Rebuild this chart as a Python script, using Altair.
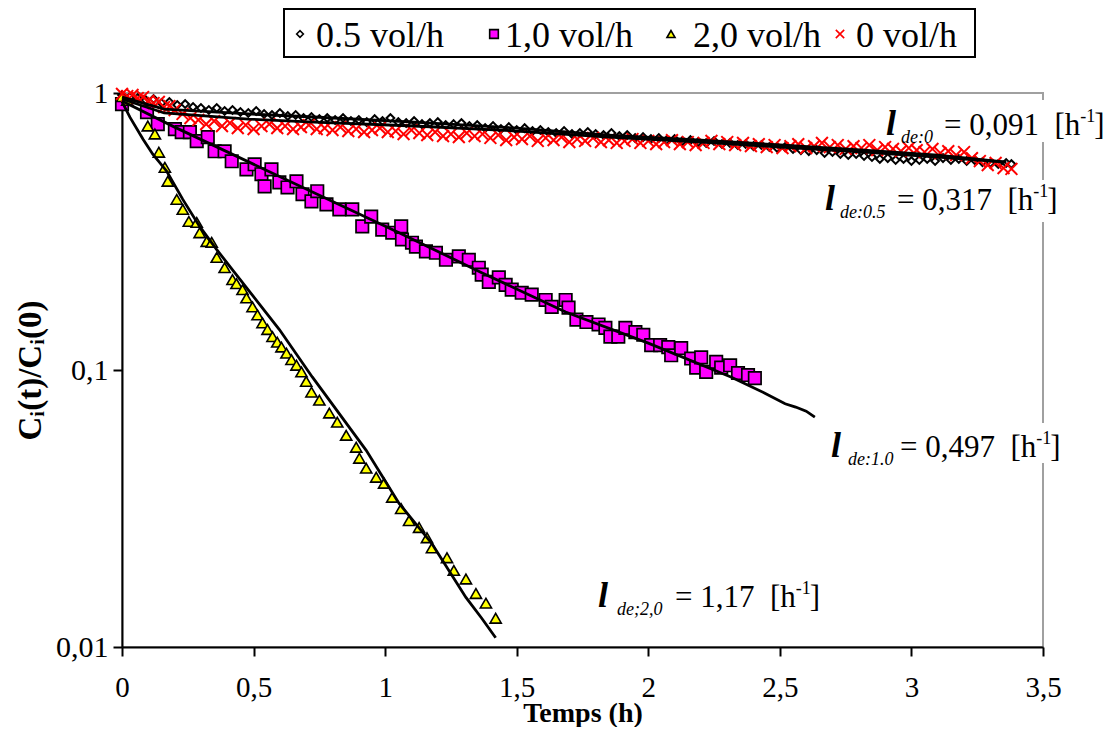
import altair as alt
import pandas as pd

SERIF = "Liberation Serif"

# ---------------- data ----------------
# 0.5 vol/h (open diamonds)
t05 = [0.00, 0.03, 0.06, 0.09, 0.12, 0.15, 0.18, 0.21, 0.24, 0.27,
       0.30, 0.33, 0.36, 0.39, 0.42, 0.45, 0.48, 0.51, 0.54, 0.57,
       0.60, 0.63, 0.66, 0.69, 0.72, 0.75, 0.78, 0.81, 0.84, 0.87,
       0.90, 0.93, 0.96, 0.99, 1.02, 1.05, 1.08, 1.11, 1.14, 1.17,
       1.20, 1.23, 1.26, 1.29, 1.32, 1.35, 1.38, 1.41, 1.44, 1.47,
       1.50, 1.53, 1.56, 1.59, 1.62, 1.65, 1.68, 1.71, 1.74, 1.77,
       1.80, 1.83, 1.86, 1.89, 1.92, 1.95, 1.98, 2.01, 2.04, 2.07,
       2.10, 2.13, 2.16, 2.19, 2.22, 2.25, 2.28, 2.31, 2.34, 2.37,
       2.40, 2.43, 2.46, 2.49, 2.52, 2.55, 2.58, 2.61, 2.64, 2.67,
       2.70, 2.73, 2.76, 2.79, 2.82, 2.85, 2.88, 2.91, 2.94, 2.97,
       3.00, 3.03, 3.06, 3.09, 3.12, 3.15, 3.18, 3.21, 3.24, 3.27,
       3.30, 3.33, 3.36, 3.38]
c05 = [0.984, 0.967, 0.959, 0.943, 0.951, 0.920, 0.928, 0.905, 0.912, 0.890,
       0.883, 0.868, 0.883, 0.861, 0.868, 0.854, 0.847, 0.861, 0.840, 0.833,
       0.847, 0.826, 0.833, 0.812, 0.819, 0.805, 0.812, 0.799, 0.812, 0.792,
       0.799, 0.785, 0.805, 0.792, 0.812, 0.785, 0.779, 0.792, 0.772, 0.779,
       0.785, 0.766, 0.772, 0.779, 0.760, 0.766, 0.747, 0.760, 0.741, 0.753,
       0.735, 0.747, 0.729, 0.735, 0.723, 0.717, 0.729, 0.711, 0.717, 0.723,
       0.711, 0.705, 0.717, 0.699, 0.705, 0.688, 0.693, 0.682, 0.688, 0.676,
       0.682, 0.671, 0.676, 0.665, 0.660, 0.671, 0.654, 0.660, 0.649, 0.654,
       0.643, 0.649, 0.638, 0.633, 0.638, 0.628, 0.622, 0.617, 0.622, 0.607,
       0.612, 0.602, 0.597, 0.602, 0.592, 0.587, 0.578, 0.582, 0.573, 0.578,
       0.568, 0.573, 0.578, 0.568, 0.582, 0.573, 0.578, 0.568, 0.573, 0.563,
       0.559, 0.554, 0.559, 0.554]

# 1,0 vol/h (magenta squares)
t10 = [0.000, 0.095, 0.136, 0.201, 0.227, 0.258, 0.284, 0.326, 0.352, 0.390,
       0.417, 0.473, 0.504, 0.530, 0.542, 0.568, 0.598, 0.629, 0.663, 0.686,
       0.720, 0.742, 0.777, 0.826, 0.875, 0.913, 0.947, 0.989, 1.027, 1.061,
       1.064, 1.102, 1.117, 1.155, 1.193, 1.231, 1.280, 1.318, 1.356, 1.367,
       1.394, 1.432, 1.458, 1.481, 1.519, 1.557, 1.610, 1.633, 1.686, 1.697,
       1.727, 1.765, 1.811, 1.837, 1.856, 1.886, 1.913, 1.951, 1.981, 2.011,
       2.045, 2.076, 2.087, 2.125, 2.163, 2.182, 2.201, 2.220, 2.258, 2.277,
       2.311, 2.341, 2.379, 2.405]
c10 = [0.912, 0.853, 0.772, 0.741, 0.722, 0.722, 0.670, 0.693, 0.616, 0.616,
       0.567, 0.530, 0.553, 0.509, 0.460, 0.530, 0.476, 0.456, 0.480, 0.431,
       0.406, 0.442, 0.396, 0.380, 0.380, 0.330, 0.358, 0.321, 0.313, 0.330,
       0.296, 0.288, 0.279, 0.268, 0.265, 0.250, 0.257, 0.250, 0.234, 0.221,
       0.208, 0.216, 0.203, 0.195, 0.190, 0.187, 0.179, 0.169, 0.179, 0.168,
       0.152, 0.149, 0.146, 0.142, 0.132, 0.132, 0.142, 0.137, 0.134, 0.123,
       0.123, 0.121, 0.113, 0.120, 0.110, 0.102, 0.111, 0.0984, 0.107, 0.102,
       0.104, 0.0975, 0.0959, 0.0935]

# 2,0 vol/h (yellow triangles)
t20 = [0.000, 0.020, 0.098, 0.125, 0.140, 0.163, 0.174, 0.208, 0.231, 0.254,
       0.284, 0.295, 0.322, 0.341, 0.360, 0.390, 0.420, 0.435, 0.458, 0.473,
       0.496, 0.515, 0.534, 0.553, 0.572, 0.590, 0.606, 0.625, 0.644, 0.663,
       0.682, 0.700, 0.720, 0.750, 0.788, 0.818, 0.852, 0.890, 0.902, 0.928,
       0.966, 0.996, 1.027, 1.061, 1.091, 1.129, 1.159, 1.178, 1.235, 1.261,
       1.307, 1.345, 1.383, 1.420]
c20 = [0.970, 0.940, 0.760, 0.711, 0.611, 0.539, 0.480, 0.413, 0.380, 0.344,
       0.341, 0.313, 0.291, 0.289, 0.255, 0.234, 0.212, 0.205, 0.195, 0.182,
       0.169, 0.158, 0.148, 0.140, 0.132, 0.126, 0.121, 0.115, 0.109, 0.104,
       0.0984, 0.0910, 0.0832, 0.0778, 0.0699, 0.0648, 0.0581, 0.0526, 0.0480, 0.0442,
       0.0410, 0.0390, 0.0347, 0.0316, 0.0286, 0.0270, 0.0248, 0.0228, 0.0210, 0.0189,
       0.0176, 0.0156, 0.0144, 0.0127]

# 0 vol/h (red crosses)
t00 = [0.00, 0.02, 0.04, 0.06, 0.08, 0.10, 0.12, 0.14, 0.16, 0.18,
       0.20, 0.23, 0.26, 0.29, 0.32, 0.35, 0.38, 0.41, 0.44, 0.47,
       0.50, 0.53, 0.56, 0.59, 0.62, 0.65, 0.68, 0.71, 0.74, 0.77,
       0.80, 0.83, 0.86, 0.89, 0.92, 0.95, 0.98, 1.01, 1.04, 1.07,
       1.10, 1.13, 1.16, 1.19, 1.22, 1.25, 1.28, 1.31, 1.34, 1.37,
       1.40, 1.43, 1.46, 1.49, 1.52, 1.55, 1.58, 1.61, 1.64, 1.67,
       1.70, 1.73, 1.76, 1.79, 1.82, 1.85, 1.88, 1.91, 1.94, 1.97,
       2.00, 2.03, 2.06, 2.09, 2.12, 2.15, 2.18, 2.21, 2.24, 2.27,
       2.30, 2.33, 2.36, 2.39, 2.42, 2.45, 2.48, 2.51, 2.54, 2.57,
       2.60, 2.63, 2.66, 2.69, 2.72, 2.75, 2.78, 2.81, 2.84, 2.87,
       2.90, 2.93, 2.96, 2.99, 3.02, 3.05, 3.08, 3.11, 3.14, 3.17,
       3.20, 3.23, 3.26, 3.29, 3.32, 3.35, 3.38]
c00 = [0.992, 0.975, 0.984, 0.959, 0.967, 0.936, 0.920, 0.928, 0.890, 0.897,
       0.868, 0.840, 0.812, 0.799, 0.772, 0.792, 0.760, 0.779, 0.747, 0.766,
       0.741, 0.760, 0.772, 0.747, 0.760, 0.741, 0.753, 0.766, 0.741, 0.747,
       0.735, 0.753, 0.729, 0.741, 0.723, 0.735, 0.747, 0.723, 0.729, 0.711,
       0.735, 0.717, 0.705, 0.723, 0.699, 0.711, 0.693, 0.717, 0.699, 0.711,
       0.688, 0.705, 0.676, 0.693, 0.682, 0.699, 0.671, 0.688, 0.676, 0.693,
       0.665, 0.682, 0.671, 0.688, 0.665, 0.676, 0.660, 0.671, 0.682, 0.660,
       0.671, 0.654, 0.665, 0.676, 0.654, 0.665, 0.649, 0.660, 0.671, 0.654,
       0.665, 0.649, 0.660, 0.643, 0.654, 0.638, 0.649, 0.633, 0.643, 0.654,
       0.633, 0.643, 0.660, 0.638, 0.649, 0.628, 0.643, 0.633, 0.649, 0.622,
       0.638, 0.628, 0.617, 0.633, 0.622, 0.612, 0.628, 0.607, 0.617, 0.597,
       0.612, 0.582, 0.568, 0.549, 0.559, 0.536, 0.532]

# fitted curves (black lines)
fitA_t = [0.00, 0.16, 0.48, 0.73, 1.11, 1.50, 1.85, 2.20, 2.50, 2.82, 3.10, 3.36]
fitA_c = [0.967, 0.875, 0.840, 0.819, 0.785, 0.747, 0.705, 0.676, 0.649, 0.622, 0.597, 0.563]
fitB_t = [0.00, 0.16, 0.48, 0.73, 1.11, 1.50, 1.85, 2.20, 2.50, 2.82, 3.10, 3.36]
fitB_c = [0.951, 0.847, 0.805, 0.785, 0.760, 0.729, 0.693, 0.665, 0.638, 0.612, 0.587, 0.563]
fitM_t = [0.000, 0.200, 1.053, 1.367, 1.686, 2.000, 2.314, 2.443, 2.520, 2.560, 2.600, 2.633]
fitM_c = [0.935, 0.753, 0.313, 0.2246, 0.162, 0.125, 0.0944, 0.0825, 0.0755, 0.0735, 0.0710, 0.0676]
fitY_t = [0.000, 0.030, 0.080, 0.117, 0.170, 0.231, 0.295, 0.360, 0.420, 0.598,
          0.723, 0.928, 1.053, 1.178, 1.307, 1.367, 1.420]
fitY_c = [0.930, 0.818, 0.681, 0.601, 0.522, 0.413, 0.330, 0.272, 0.230, 0.140,
          0.0944, 0.0513, 0.0330, 0.0236, 0.0151, 0.0127, 0.0108]

x_ticks = [0, 0.5, 1, 1.5, 2, 2.5, 3, 3.5]
y_ticks = [0.01, 0.1, 1]

legend_labels = ["0.5 vol/h", "1,0 vol/h", "2,0 vol/h", "0 vol/h"]

annotations = [  # (lambda subscript, value)
    ("de:0", "0,091"),
    ("de:0.5", "0,317"),
    ("de:1.0", "0,497"),
    ("de;2,0", "1,17"),
]

# ---------------- chart ----------------
xscale = alt.Scale(domain=[0, 3.5], nice=False, zero=False)
yscale = alt.Scale(type="log", domain=[0.01, 1], nice=False)

xaxis = alt.Axis(values=x_ticks, labelExpr="replace(format(datum.value, '~g'), '.', ',')",
                 title="Temps (h)", grid=False, tickSize=9, tickWidth=2, tickColor="black",
                 domainColor="black", domainWidth=2, labelFont=SERIF, labelFontSize=29,
                 labelColor="black", labelPadding=17, labelFlush=False, labelOverlap=False,
                 titleFont=SERIF, titleFontSize=28, titleFontWeight="bold", titleColor="black",
                 titleBaseline="alphabetic", titleY=74)
yaxis = alt.Axis(values=y_ticks, labelExpr="replace(format(datum.value, '~g'), '.', ',')",
                 title="C\u1d62(t)/C\u1d62(0)", grid=False, tickSize=9, tickWidth=2, tickColor="black",
                 domainColor="black", domainWidth=2, labelFont=SERIF, labelFontSize=30,
                 labelColor="black", labelPadding=5, labelFlush=False, labelOverlap=False,
                 titleFont=SERIF, titleFontSize=33, titleFontWeight="bold", titleColor="black",
                 titlePadding=8)


def df(t, c):
    return pd.DataFrame({"t": t, "c": c})


def enc(ch, with_axis=False):
    return ch.encode(x=alt.X("t:Q", scale=xscale, axis=xaxis if with_axis else None),
                     y=alt.Y("c:Q", scale=yscale, axis=yaxis if with_axis else None))


XPATH = "M-1,-1L1,1M-1,1L1,-1"

p05 = enc(alt.Chart(df(t05, c05)).mark_point(shape="diamond", size=60, filled=True, fill="white",
                                              stroke="black", strokeWidth=2, opacity=1), True)
p10 = enc(alt.Chart(df(t10, c10)).mark_point(shape="square", size=155, filled=True, fill="#ff00ff",
                                              stroke="black", strokeWidth=1.7, opacity=1))
p20 = enc(alt.Chart(df(t20, c20)).mark_point(shape="triangle-up", size=125, filled=True, fill="#ffff00",
                                              stroke="black", strokeWidth=1.6, opacity=1))
p00 = enc(alt.Chart(df(t00, c00)).mark_point(shape=XPATH, size=140, filled=False,
                                              stroke="#ff0000", strokeWidth=2, opacity=1))

fit_df = pd.concat([df(fitA_t, fitA_c).assign(g="A"), df(fitB_t, fitB_c).assign(g="B"),
                    df(fitM_t, fitM_c).assign(g="M"), df(fitY_t, fitY_c).assign(g="Y")])
fits = enc(alt.Chart(fit_df).mark_line(color="black", strokeWidth=2.8)).encode(detail="g:N")

PX = dict(x=alt.X("px:Q", scale=None, axis=None), y=alt.Y("py:Q", scale=None, axis=None))

# ---- decorations laid out in pixels (plot-area coordinates) ----
gaps = pd.DataFrame({"px": [914, 914, 914], "px2": [930, 930, 930],
                     "py": [7, 87, 330], "py2": [49, 129, 370]})
gap_layer = alt.Chart(gaps).mark_rect(fill="white", strokeWidth=0).encode(
    **PX, x2="px2:Q", y2="py2:Q")

box = pd.DataFrame({"px": [162], "px2": [853], "py": [-84], "py2": [-36]})
box_layer = alt.Chart(box).mark_rect(fill="white", stroke="black", strokeWidth=2).encode(
    **PX, x2="px2:Q", y2="py2:Q")

symbols = pd.DataFrame({"px": [178, 372, 549, 718], "py": [-59, -59, -59, -59],
                        "shape": ["diamond", "square", "triangle-up", XPATH],
                        "fill": ["white", "#ff00ff", "#ffff00", "transparent"],
                        "stroke": ["black", "black", "black", "#ff0000"],
                        "sz": [45, 75, 65, 70]})
sym_layer = alt.Chart(symbols).mark_point(filled=True, strokeWidth=1.6, opacity=1).encode(
    **PX,
    shape=alt.Shape("shape:N", scale=None, legend=None),
    fill=alt.Fill("fill:N", scale=None, legend=None),
    stroke=alt.Stroke("stroke:N", scale=None, legend=None),
    size=alt.Size("sz:Q", scale=None, legend=None))

normal_rows, italic_rows, lam_rows = [], [], []
ann_pos = [(764, 42, 779, 822), (703, 117, 718, 775), (709, 364, 726, 778), (476, 514, 495, 553)]
for (sub, val), (lx, by, sx, ex) in zip(annotations, ann_pos):
    main = "= " + val + "\u00a0 [h"
    w = 31 * (0.564 + 0.25 + 0.25 * 2 + 0.333 + 0.5) + 31 * (0.5 * (len(val) - 1) + 0.25)
    lam_rows.append((lx, by, "l", 36))
    italic_rows.append((sx, by + 8, sub, 18))
    normal_rows.append((ex, by, main, 31))
    normal_rows.append((ex + w, by - 13, "-1", 18))
    normal_rows.append((ex + w + 14, by, "]", 31))
for lab, lx in zip(legend_labels, [194, 383, 571, 734]):
    normal_rows.append((lx, -46, lab, 36))


def text_layer(rows, **style):
    d = pd.DataFrame(rows, columns=["px", "py", "label", "fs"])
    return alt.Chart(d).mark_text(font=SERIF, align="left", baseline="alphabetic",
                                  color="black", **style).encode(
        **PX, text="label:N", size=alt.Size("fs:Q", scale=None, legend=None))


t_norm = text_layer(normal_rows)
t_ital = text_layer(italic_rows, fontStyle="italic")
t_lam = text_layer(lam_rows, fontStyle="italic", fontWeight="bold")

chart = alt.layer(p05, p10, p20, p00, fits, gap_layer, box_layer, sym_layer,
                  t_norm, t_ital, t_lam).resolve_scale(
    x="independent", y="independent", size="independent", shape="independent",
    fill="independent", stroke="independent").properties(
    width=921, height=554,
    autosize=alt.AutoSizeParams(type="none"),
    padding={"left": 114, "top": 85, "right": 64, "bottom": 80},
).configure(background="white", font=SERIF,
            view=alt.ViewConfig(stroke="#a0a0a0", strokeWidth=2))

chart.save("out.html", embed_options={"renderer": "svg", "actions": False})
